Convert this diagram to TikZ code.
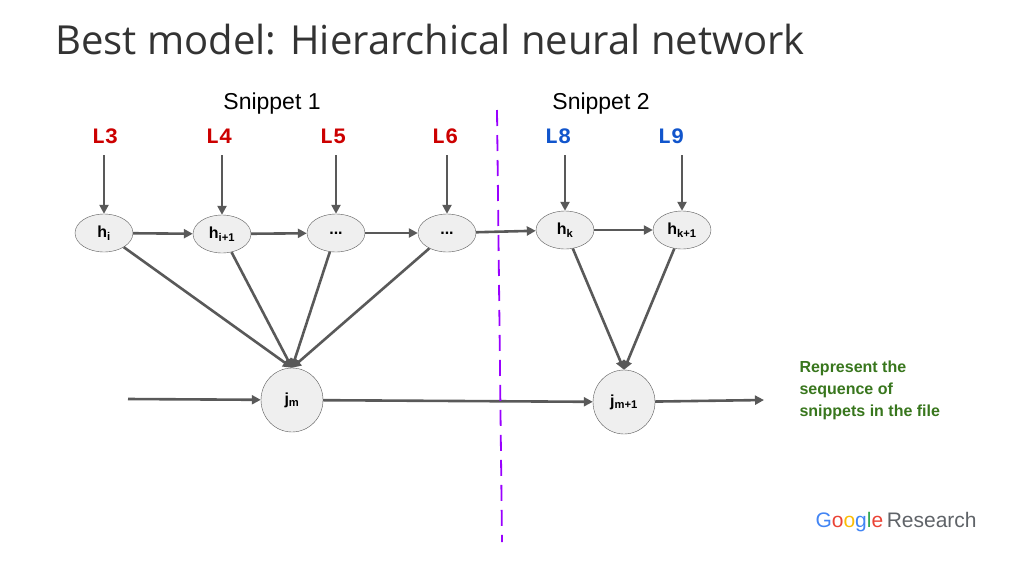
\documentclass[tikz,border=0pt]{standalone}
\usepackage{fontspec}
\setmainfont{Liberation Sans}
\newfontfamily\titlef{Open Sans}
\newfontfamily\monof{Liberation Mono}
\usetikzlibrary{arrows.meta,shapes.geometric}
\definecolor{edge}{HTML}{595959}
\definecolor{nfill}{HTML}{EFEFEF}
\definecolor{lred}{HTML}{CC0000}
\definecolor{lblue}{HTML}{1155CC}
\definecolor{gr}{HTML}{38761D}
\begin{document}
\begin{tikzpicture}[x=1pt,y=-1pt,
 hn/.style={ellipse,draw=edge,fill=nfill,minimum width=58pt,minimum height=38pt,inner sep=0pt,font=\fontsize{16}{18}\selectfont\bfseries},
 jn/.style={ellipse,draw=edge,fill=nfill,minimum width=62pt,minimum height=64pt,inner sep=0pt,font=\fontsize{16}{18}\selectfont\bfseries},
 ar/.style={draw=edge,line width=2.6pt,-{Triangle[length=9pt,width=9pt]}},
 lab/.style={font=\monof\fontsize{22}{24}\selectfont\bfseries}]
\useasboundingbox (0,0) rectangle (1024,576);
\node[anchor=west,text=black!80,font=\titlef\fontsize{40}{44}\selectfont] (title) at (52,40) {Best model: Hierarchical neural network};
\node[font=\fontsize{23}{26}\selectfont] (s1) at (272,104) {Snippet 1};
\node[font=\fontsize{23}{26}\selectfont] (s2) at (601,104) {Snippet 2};
\node[lab,text=lred] (L3) at (105,136) {L3};
\node[lab,text=lred] (L4) at (219,136) {L4};
\node[lab,text=lred] (L5) at (333,136) {L5};
\node[lab,text=lred] (L6) at (445,136) {L6};
\node[lab,text=lblue] (L8) at (558,136) {L8};
\node[lab,text=lblue] (L9) at (671,136) {L9};
\node[hn] (h1) at (104,233) {h\textsubscript{i}};
\node[hn] (h2) at (222,234) {h\textsubscript{i+1}};
\node[hn] (h3) at (336,233) {...};
\node[hn] (h4) at (447,233) {...};
\node[hn] (h5) at (565,230) {h\textsubscript{k}};
\node[hn] (h6) at (682,230) {h\textsubscript{k+1}};
\node[jn] (j1) at (292,400) {j\textsubscript{m}};
\node[jn] (j2) at (624,402) {j\textsubscript{m+1}};
\foreach \a/\b in {L3/h1,L4/h2,L5/h3,L6/h4,L8/h5,L9/h6}
  \draw[ar] (\b.north|-0,155) -- (\b);
\draw[ar] (h1)--(h2); \draw[ar] (h2)--(h3); \draw[ar] (h3)--(h4); \draw[ar] (h4)--(h5); \draw[ar] (h5)--(h6);
\foreach \h in {h1,h2,h3,h4} \draw[ar] (\h)--(j1.north);
\foreach \h in {h5,h6} \draw[ar] (\h)--(j2.north);
\coordinate (in) at (128,399);
\coordinate (out) at (764,400);
\draw[ar] (in)--(j1);
\draw[ar] (j1)--(j2);
\draw[ar] (j2)--(out);
\draw[draw={rgb,255:red,153;green,0;blue,255},line width=1.8pt,dash pattern=on 16pt off 9pt] (497,110) -- (502,542);
\node[anchor=north west,align=left,text=gr,font=\fontsize{16}{22}\selectfont\bfseries] (note) at (796,357) {Represent the\\sequence of\\snippets in the file};
\node[anchor=west,font=\fontsize{21}{24}\selectfont] (g) at (812,522) {\textcolor[HTML]{4285F4}{G}\textcolor[HTML]{EA4335}{o}\textcolor[HTML]{FBBC05}{o}\textcolor[HTML]{4285F4}{g}\textcolor[HTML]{34A853}{l}\textcolor[HTML]{EA4335}{e}\,\textcolor[HTML]{5F6368}{Research}};
\end{tikzpicture}
\end{document}
